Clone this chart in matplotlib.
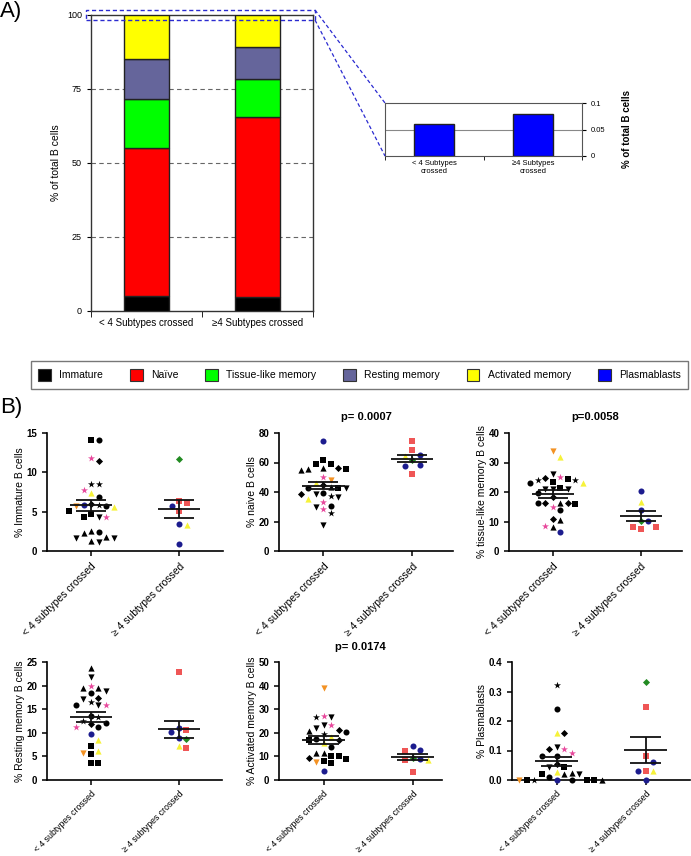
import numpy as np
import matplotlib
matplotlib.use("Agg")
import matplotlib.pyplot as plt
from matplotlib.patches import Patch, Rectangle
from matplotlib.lines import Line2D

plt.rcParams['font.family'] = ['Liberation Sans', 'DejaVu Sans']

W, H = 691, 856

# ---------------- panel A data ----------------
subsets_a = ['< 4 Subtypes crossed', '\u22654 Subtypes crossed']
subsets_inset = ['< 4 Subtypes\ncrossed', '\u22654 Subtypes\ncrossed']
immature = [5.1, 4.7]
naive = [50.0, 60.7]
tissue_like = [16.6, 13.0]
resting = [13.4, 10.7]
activated = [14.9, 10.9]
plasmablasts = [0.06, 0.08]

populations = ['Immature', 'Na\u00efve', 'Tissue-like memory', 'Resting memory',
               'Activated memory', 'Plasmablasts']
pop_colors = ['#000000', '#ff0000', '#00ff00', '#65659b', '#ffff00', '#0000ff']

# ---------------- panel B data ----------------
# symbol codes: marker + colour (k black, p pink, y yellow, o orange, n navy, r red, g green)
groups_b = ['< 4 subtypes crossed', '\u2265 4 subtypes crossed']

imm_lo = [14.1, 14.1, 11.5, 11.8, 8.5, 8.5, 7.8, 7.4, 6.9, 6.0, 5.8, 5.75, 5.7, 5.6,
          5.8, 5.1, 4.7, 4.3, 4.3, 4.3, 2.4, 2.3, 2.6, 1.8, 1.7, 1.1, 1.3, 1.7]
imm_lo_sym = ['ok', 'sk', 'Dk', '*p', '*k', '*k', '*p', '^y', 'ok', 'Dk', 'on', 'ok', 'vo', '^y',
              '*k', 'sk', 'sk', '*p', 'sk', 'vk', 'ok', '^k', '^k', '^k', 'vk', 'vk', '^k', 'vk']
imm_hi = [11.7, 6.4, 6.05, 5.1, 5.75, 3.4, 3.3, 0.94]
imm_hi_sym = ['Dg', 'sr', 'sr', 'sr', 'on', 'on', '^y', 'on']

nai_lo = [74.3, 58.9, 61.4, 58.9, 56.1, 55.5, 55.0, 55.5, 56.1, 50.0, 48.2, 45.9, 44.8, 43.2,
          43.0, 42.5, 42.5, 39.1, 38.6, 38.6, 37.3, 36.4, 35.0, 33.4, 30.7, 29.5, 28.4, 25.5, 17.5]
nai_lo_sym = ['on', 'sk', 'sk', 'sk', 'Dk', 'sk', '^k', '^k', '^k', '*p', 'vo', '^y', 'Dk', '^k',
              'sk', 'vk', 'ok', 'ok', 'Dk', 'vk', '*k', 'vk', '^y', '*p', 'ok', 'vk', '*p', '*k', 'vk']
nai_hi = [74.3, 68.2, 65.2, 64.1, 61.4, 58.4, 57.7, 52.0]
nai_hi_sym = ['sr', 'sr', 'on', '^y', 'Dg', 'on', 'on', 'sr']

tis_lo = [33.75, 32.0, 26.0, 25.2, 24.4, 24.1, 23.2, 23.0, 23.5, 24.1, 24.9, 20.9, 20.9, 20.9,
          21.25, 19.8, 18.2, 16.4, 16.4, 16.4, 16.4, 16.1, 15.0, 13.9, 10.8, 10.5, 8.4, 8.2, 6.5]
tis_lo_sym = ['vo', '^y', 'vk', '*p', 'sk', '*k', 'ok', '^y', 'sk', '*k', 'Dk', 'vk', 'vk', 'vk',
              'sk', 'ok', 'Dk', '^k', 'ok', 'Dk', 'Dk', 'sk', '*p', 'ok', 'Dk', '^k', '*p', '^k', 'on']
tis_hi = [20.5, 16.7, 13.9, 10.2, 10.1, 8.0, 7.3, 8.0]
tis_hi_sym = ['on', '^y', 'on', 'Dg', 'on', 'sr', 'sr', 'sr']

res_lo = [23.7, 21.8, 19.5, 20.0, 19.5, 18.4, 18.8, 17.4, 17.2, 16.6, 15.9, 15.9, 15.8, 13.5,
          13.3, 11.8, 12.0, 12.6, 11.3, 11.3, 9.8, 8.5, 7.1, 6.2, 5.7, 5.5, 3.5, 3.5]
res_lo_sym = ['^k', 'vk', '^k', '*p', '^k', 'ok', 'vk', 'Dk', 'vk', '*k', 'ok', '*p', 'vk', 'ok',
              '*k', 'Dk', 'ok', '*k', '*p', 'ok', 'on', '^y', 'sk', '^y', 'vo', 'sk', 'sk', 'sk']
res_hi = [22.9, 10.6, 11.0, 10.1, 8.85, 8.7, 7.3, 6.7]
res_hi_sym = ['sr', 'sr', 'on', 'on', 'on', 'Dg', '^y', 'sr']

act_lo = [39.0, 27.2, 26.6, 26.9, 23.1, 23.4, 22.0, 20.8, 20.5, 21.2, 19.4, 18.4, 17.4, 16.8,
          17.0, 15.6, 13.9, 11.3, 11.3, 9.5, 8.8, 10.3, 10.0, 7.5, 7.0, 8.0, 3.8]
act_lo_sym = ['vo', '*p', '*k', 'vk', '*p', 'vk', 'vk', '^k', 'ok', 'Dk', '*k', '^y', 'ok', 'sk',
              'Dk', '^y', 'ok', '^k', '^k', 'Dk', 'sk', 'sk', 'sk', 'vo', 'sk', 'sk', 'on']
act_hi = [14.2, 12.7, 12.5, 9.2, 8.5, 8.5, 8.8, 3.3]
act_hi_sym = ['on', 'on', 'sr', 'Dg', '^y', 'sr', 'on', 'sr']

pla_lo = [0.323, 0.24, 0.161, 0.161, 0.104, 0.113, 0.104, 0.093, 0.082, 0.082, 0.053, 0.043,
          0.045, 0.028, 0.02, 0.02, 0.025, 0.011, 0.02, 0.0, 0.0, 0.0, 0.0, 0.0, 0.0, 0.0, 0.0]
pla_lo_sym = ['*k', 'ok', '^y', 'Dk', 'Dk', 'vk', '*p', '*p', 'ok', 'ok', 'Dk', 'vk',
              'sk', '^y', '^k', 'vk', '^k', 'ok', 'sk', 'on', 'sk', '*k', 'ok', 'sk', '^k', 'vo', 'sk']
pla_hi = [0.331, 0.249, 0.082, 0.06, 0.031, 0.031, 0.031, 0.0]
pla_hi_sym = ['Dg', 'sr', 'sr', 'on', '^y', 'sr', 'on', 'on']

sym_colors = {'k': '#000000', 'p': '#e8489c', 'y': '#f6f23a', 'o': '#f39224',
              'n': '#1c1c8e', 'r': '#ef5656', 'g': '#228b22'}
sym_sizes = {'o': 19, 's': 17, '^': 20, 'v': 20, 'D': 13, '*': 28}


fig = plt.figure(figsize=(W / 100, H / 100), dpi=100)


def px_axes(l, t, r, b):
    return fig.add_axes([l / W, 1 - b / H, (r - l) / W, (b - t) / H])


# ---------------- A) stacked bars ----------------
ax = px_axes(91, 15, 313, 311)
x = np.arange(len(subsets_a))
segments = [immature, naive, tissue_like, resting, activated]
bottom = np.zeros(len(x))
for seg, col in zip(segments, pop_colors[:5]):
    ax.bar(x, seg, 0.4, bottom=bottom, color=col, edgecolor='#222222', lw=1.0, zorder=3)
    bottom += np.array(seg)
for yv in [25, 50, 75]:
    ax.axhline(yv, color='#666666', ls=(0, (4, 3)), lw=0.8, zorder=1)
ax.set_xlim(-0.5, 1.5)
ax.set_ylim(0, 100)
ax.set_yticks([0, 25, 50, 75, 100])
ax.tick_params(axis='y', labelsize=6.5, length=3, direction='out')
ax.set_xticks(x)
ax.set_xticklabels(subsets_a, fontsize=7)
ax.tick_params(axis='x', length=0, pad=5)
ax.set_xticks([-0.5, 0.5, 1.5], minor=True)
ax.tick_params(axis='x', which='minor', length=4, direction='out')
for sp in ax.spines.values():
    sp.set_color('#333333')
    sp.set_linewidth(1.0)
ax.set_ylabel('% of total B cells', fontsize=7.5, labelpad=4)

# inset for plasmablasts
axi = px_axes(385, 103, 582, 156)
axi.bar(x, plasmablasts, 0.41, color=pop_colors[5], edgecolor='#222222', lw=1.0, zorder=3)
axi.axhline(0.05, color='#888888', lw=0.8, zorder=1)
axi.set_xlim(-0.5, 1.5)
axi.set_ylim(0, 0.1)
axi.yaxis.tick_right()
axi.yaxis.set_label_position('right')
axi.set_yticks([0, 0.05, 0.1])
axi.set_yticklabels(['0', '0.05', '0.1'])
axi.tick_params(axis='y', labelsize=5.5, length=3)
axi.set_xticks(x)
axi.set_xticklabels(subsets_inset, fontsize=5.5)
axi.tick_params(axis='x', length=0, pad=3)
axi.set_xticks([-0.5, 0.5, 1.5], minor=True)
axi.tick_params(axis='x', which='minor', length=3)
for sp in axi.spines.values():
    sp.set_color('#555555')
axi.set_ylabel('% of total B cells', fontsize=7, fontweight='bold', labelpad=12)

# zoom box and connectors
zc = '#2a2ad0'
fig.add_artist(Rectangle((86 / W, 1 - 20 / H), (315 - 86) / W, 10 / H, transform=fig.transFigure,
                         fill=False, ec=zc, lw=1.0, ls=(0, (3, 2))))
for y0, y1 in [(10, 103), (20, 156)]:
    fig.add_artist(Line2D([315 / W, 385 / W], [1 - y0 / H, 1 - y1 / H], transform=fig.transFigure,
                          color=zc, lw=0.9, ls=(0, (3, 2))))

fig.text(0 / W, 1 - 1 / H, 'A)', fontsize=16, va='top', ha='left')
fig.text(0 / W, 1 - 397 / H, 'B)', fontsize=16, va='top', ha='left')

# legend
handles = [Patch(facecolor=c, edgecolor='#333333', lw=0.8) for c in pop_colors]
leg = fig.legend(handles, populations, loc='center', ncol=6, mode='expand',
                 bbox_to_anchor=(31 / W, 1 - 392 / H, 657 / W, 34 / H), fontsize=7.5,
                 handlelength=1.2, handleheight=1.5, borderpad=0.7, fancybox=False,
                 edgecolor='#555555', borderaxespad=0, columnspacing=1.0)
leg.get_frame().set_linewidth(1.0)


# ---------------- B) scatter panels ----------------
def swarm_offsets(ax, vals, step=7.5):
    to_px = ax.transData.transform
    ypx = [to_px((0, v))[1] for v in vals]
    ux = to_px((1, 0))[0] - to_px((0, 0))[0]
    order = np.argsort(vals)[::-1]
    placed = []
    offs = np.zeros(len(vals))
    for i in order:
        k = 0
        while True:
            cand = 0.0 if k == 0 else ((k + 1) // 2) * step * (1 if k % 2 else -1)
            if all(np.hypot(cand - px, ypx[i] - py) >= step * 0.95 for px, py in placed):
                break
            k += 1
        placed.append((cand, ypx[i]))
        offs[i] = cand / ux
    return offs


panels = [
    ((47, 433, 223, 551), imm_lo, imm_lo_sym, imm_hi, imm_hi_sym, 15, [0, 5, 10, 15],
     '% Immature B cells', None, 1.5),
    ((279, 433, 453, 551), nai_lo, nai_lo_sym, nai_hi, nai_hi_sym, 80, [0, 20, 40, 60, 80],
     '% naive B cells', 'p= 0.0007', 1.46),
    ((509, 433, 682, 551), tis_lo, tis_lo_sym, tis_hi, tis_hi_sym, 40, [0, 10, 20, 30, 40],
     '% tissue-like memory B cells', 'p=0.0058', 1.47),
    ((47, 662, 222, 780), res_lo, res_lo_sym, res_hi, res_hi_sym, 25, [0, 5, 10, 15, 20, 25],
     '% Resting memory B cells', None, 1.49),
    ((279, 662, 442, 780), act_lo, act_lo_sym, act_hi, act_hi_sym, 50, [0, 10, 20, 30, 40, 50],
     '% Activated memory B cells', 'p= 0.0174', 1.33),
    ((512, 662, 690, 780), pla_lo, pla_lo_sym, pla_hi, pla_hi_sym, 0.4, [0.0, 0.1, 0.2, 0.3, 0.4],
     '% Plasmablasts', None, 1.5),
]

for n, (box, lo, lo_sym, hi, hi_sym, ymax, yt, ylab, title, xr) in enumerate(panels):
    ax = px_axes(*box)
    ax.set_xlim(-0.5, xr)
    ax.set_ylim(0, ymax)
    for xc, vals, syms in [(0, lo, lo_sym), (1, hi, hi_sym)]:
        offs = swarm_offsets(ax, vals)
        for v, s, o in zip(vals, syms, offs):
            ax.scatter(xc + o, v, marker=s[0], s=sym_sizes[s[0]], color=sym_colors[s[1]],
                       linewidths=0, zorder=3, clip_on=False)
        v = np.array(vals)
        m = v.mean()
        se = v.std(ddof=1) / np.sqrt(len(v))
        ax.hlines(m, xc - 0.24, xc + 0.24, color='#111111', lw=1.3, zorder=4)
        ax.hlines([m - se, m + se], xc - 0.17, xc + 0.17, color='#111111', lw=1.3, zorder=4)
        ax.vlines(xc, m - se, m + se, color='#111111', lw=1.3, zorder=4)
    ax.spines['top'].set_visible(False)
    ax.spines['right'].set_visible(False)
    ax.spines['left'].set_linewidth(1.2)
    ax.spines['bottom'].set_linewidth(1.2)
    ax.set_yticks(yt)
    if ymax < 1:
        ax.set_yticklabels([f'{t:.1f}' for t in yt])
    ax.tick_params(axis='y', labelsize=7, length=3.5, width=1.1)
    for lbl in ax.get_yticklabels():
        lbl.set_fontweight('bold')
    ax.set_xticks([0, 1])
    ax.set_xticklabels(groups_b, rotation=45, ha='right', rotation_mode='anchor',
                       fontsize=7.5 if n < 3 else 6.3)
    ax.tick_params(axis='x', length=3.5, width=1.1, pad=4 if n < 3 else 3)
    ax.set_ylabel(ylab, fontsize=7.5, labelpad=1)
    if title:
        ax.set_title(title, fontsize=8, fontweight='bold', pad=9)

fig.savefig('out.png', dpi=100)
